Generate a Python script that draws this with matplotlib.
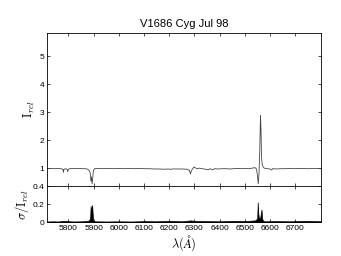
import numpy as np
import matplotlib
matplotlib.use("Agg")
import matplotlib.pyplot as plt

plt.rcParams['font.family'] = ['Liberation Sans', 'DejaVu Sans']
plt.rcParams['mathtext.fontset'] = 'cm'

# spectrum, normalised intensity
wave = [5715, 5730, 5745, 5760, 5770, 5778, 5780, 5782, 5790, 5795, 5797, 5799,
        5810, 5825, 5840, 5855, 5870, 5878, 5882, 5886, 5889, 5891, 5894, 5896,
        5899, 5903, 5920, 5940, 5960, 5980, 6000, 6020, 6040, 6060, 6080, 6100,
        6120, 6140, 6160, 6180, 6200, 6205, 6210, 6230, 6250, 6270, 6280, 6284,
        6287, 6292, 6298, 6302, 6310, 6320, 6330, 6345, 6355, 6362, 6372, 6380,
        6395, 6410, 6425, 6440, 6455, 6470, 6485, 6500, 6515, 6530, 6540, 6546,
        6550, 6553, 6556, 6559, 6562, 6564, 6566, 6569, 6574, 6580, 6590, 6600,
        6606, 6610, 6625, 6640, 6660, 6680, 6700, 6720, 6750, 6780, 6803]
flux = [0.99, 1.00, 0.99, 1.00, 0.99, 0.97, 0.86, 0.97, 0.99, 0.96, 0.88, 0.97,
        1.00, 0.99, 1.00, 0.99, 0.99, 0.96, 0.93, 0.85, 0.55, 0.70, 0.45, 0.62,
        0.93, 0.99, 1.00, 0.99, 1.00, 0.99, 1.00, 0.99, 1.00, 0.99, 1.00, 0.99,
        0.99, 0.98, 0.98, 0.97, 0.98, 0.96, 0.98, 0.98, 0.98, 0.97, 0.93, 0.80,
        0.90, 0.98, 1.05, 1.03, 0.99, 1.01, 0.99, 0.97, 0.95, 0.99, 0.95, 0.99,
        0.98, 0.99, 0.99, 0.98, 0.99, 1.00, 0.99, 1.00, 0.99, 1.01, 1.03, 0.98,
        0.75, 0.45, 0.80, 1.60, 2.88, 2.40, 1.40, 1.12, 1.03, 1.00, 0.99, 0.98,
        0.94, 0.99, 0.98, 0.99, 0.99, 1.00, 0.99, 1.00, 0.99, 1.00, 0.99]

# relative error
err_wave = [5715, 5740, 5760, 5780, 5797, 5820, 5850, 5870, 5882, 5886, 5888,
            5890, 5892, 5894, 5896, 5898, 5905, 5950, 6000, 6050, 6100, 6150,
            6200, 6250, 6285, 6300, 6350, 6400, 6450, 6500, 6540, 6549, 6551,
            6553, 6556, 6561, 6563, 6566, 6568, 6571, 6580, 6620, 6680, 6740, 6803]
err = [0.008, 0.010, 0.008, 0.015, 0.012, 0.008, 0.010, 0.012, 0.020, 0.050, 0.180,
       0.110, 0.150, 0.190, 0.090, 0.020, 0.010, 0.008, 0.010, 0.008, 0.012, 0.010,
       0.015, 0.010, 0.020, 0.015, 0.012, 0.010, 0.015, 0.012, 0.020, 0.040, 0.220,
       0.100, 0.040, 0.050, 0.090, 0.140, 0.050, 0.020, 0.010, 0.012, 0.010, 0.015, 0.010]

xticks = [5800, 5900, 6000, 6100, 6200, 6300, 6400, 6500, 6600, 6700]

fig = plt.figure(figsize=(3.41, 2.56), dpi=100)
ax1 = fig.add_axes([0.138, 0.273, 0.804, 0.598])
ax2 = fig.add_axes([0.138, 0.132, 0.804, 0.141])

ax1.plot(wave, flux, color='#444444', lw=0.6)
ax1.set_xlim(5715, 6803)
ax1.set_ylim(0.37, 5.82)
ax1.set_yticks([1, 2, 3, 4, 5])
ax1.set_xticks(xticks)
ax1.set_xticklabels([])
ax1.set_title('V1686 Cyg Jul 98', fontsize=8, pad=4)
ax1.set_ylabel(r'$\mathrm{I}_{rel}$', fontsize=9, labelpad=2)

ax2.fill_between(err_wave, 0, err, color='black', lw=0.5)
ax2.set_xlim(5715, 6803)
ax2.set_ylim(0, 0.4)
ax2.set_yticks([0, 0.2, 0.4])
ax2.set_yticklabels(['0', '0.2', '0.4'])
ax2.set_xticks(xticks)
ax2.set_ylabel(r'$\sigma/\mathrm{I}_{rel}$', fontsize=9, labelpad=1)
ax2.set_xlabel(r'$\lambda(\AA)$', fontsize=9, labelpad=1)

for ax in (ax1, ax2):
    ax.tick_params(direction='in', top=True, right=True, length=2.5, width=0.5,
                   labelsize=6, pad=2)
    for s in ax.spines.values():
        s.set_linewidth(0.6)

fig.savefig('out.png', dpi=100)
